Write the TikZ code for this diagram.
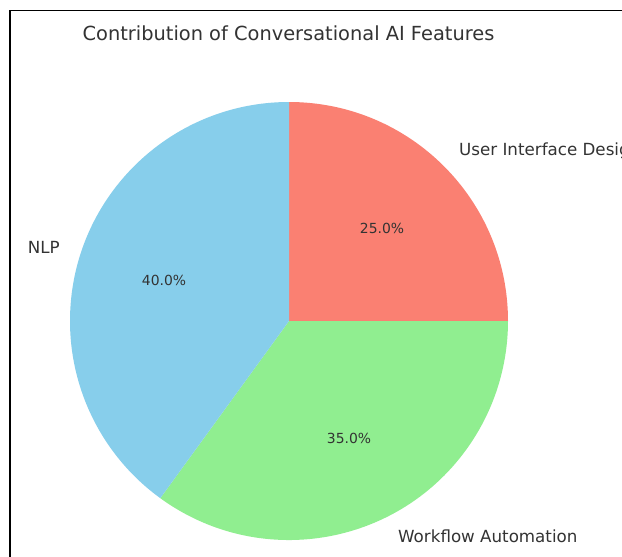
\documentclass[tikz,border=0pt]{standalone}
\usepackage{fontspec}
\setmainfont{DejaVu Sans}
\definecolor{skyblue}{HTML}{87CEEB}
\definecolor{salmon}{HTML}{FA8072}
\definecolor{lightgreen}{HTML}{90EE90}
\definecolor{txt}{HTML}{333333}
\tikzset{
  slice/.style={draw=none},
  lbl/.style={inner sep=0pt, text=txt, font=\fontsize{16.7}{20}\selectfont},
  pct/.style={inner sep=0pt, text=txt, font=\fontsize{13.9}{16}\selectfont},
  ttl/.style={inner sep=0pt, text=txt, font=\fontsize{19.4}{23}\selectfont},
  frame/.style={draw=black, line width=1.3pt}
}
\begin{document}
\begin{tikzpicture}[x=1pt,y=-1pt]
\useasboundingbox (0,0) rectangle (622,557);
\fill[white] (0,0) rectangle (622,557);
% frame edges
\coordinate (ftr) at (622,10.5);
\coordinate (ftl) at (10,10.5);
\coordinate (fbl) at (10,557);
\draw[frame] (ftr) -- (ftl) -- (fbl);
% pie
\begin{scope}[shift={(289,321)}]
  \fill[salmon] (0pt,0pt) -- (0:219pt) arc[start angle=0, end angle=90, radius=219pt] -- cycle;
  \fill[lightgreen] (0pt,0pt) -- (-126:219pt) arc[start angle=-126, end angle=0, radius=219pt] -- cycle;
  \fill[skyblue] (0pt,0pt) -- (90:219pt) arc[start angle=90, end angle=234, radius=219pt] -- cycle;
\end{scope}
% title
\node[ttl] (title) at (288.5,33) {Contribution of Conversational AI Features};
% labels
\node[lbl, anchor=west] (lui) at (459,151) {User Interface Design};
\node[lbl, anchor=west] (lwf) at (398,536) {Workflow Automation};
\node[lbl, anchor=east] (lnlp) at (60,247) {NLP};
% percentages
\node[pct] (pui) at (382,228) {25.0\%};
\node[pct] (pwf) at (349,438) {35.0\%};
\node[pct] (pnlp) at (164,280) {40.0\%};
\end{tikzpicture}
\end{document}
